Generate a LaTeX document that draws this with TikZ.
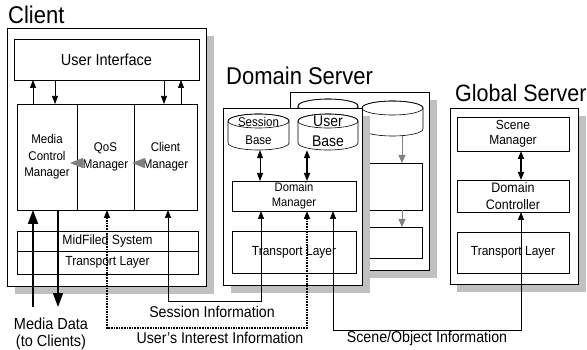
\documentclass[tikz,border=0pt]{standalone}
\usepackage{fontspec}
\setmainfont[FakeStretch=0.909]{Liberation Sans}
\usetikzlibrary{arrows.meta,fit,calc}
\definecolor{shade}{RGB}{192,192,192}
\definecolor{garrow}{RGB}{128,128,128}
\newcommand\fs[1]{\fontsize{\fpeval{1.1*#1}}{\fpeval{1.43*#1}}\selectfont}
\newcommand\fsl[2]{\fontsize{\fpeval{1.1*#1}}{#2}\selectfont}
\newcommand\rbox[7][]{%
  \pgfmathsetmacro\bw{#5-#3}\pgfmathsetmacro\bh{#6-#4}%
  \pgfmathsetmacro\bx{(#3+#5)/2}\pgfmathsetmacro\by{(#4+#6)/2}%
  \node[box, minimum width=\bw pt, minimum height=\bh pt, #1] (#2) at (\bx,\by) {#7};}
\newcommand\cyl[5]{%
  \pgfmathsetmacro\cxc{(#2+#4)/2}\pgfmathsetmacro\crx{(#4-#2)/2}%
  \draw[line width=0.6pt,fill=white] (#2,#3+7) -- (#2,#5-7) arc[start angle=180,end angle=0,x radius=\crx,y radius=7] -- (#4,#3+7) arc[start angle=0,end angle=-180,x radius=\crx,y radius=7] -- cycle;
  \draw[line width=0.6pt] (\cxc,#3+7) ellipse[x radius=\crx, y radius=7];
  \node[inner sep=0pt, fit={(#2,#3) (#4,#5)}] (#1) {};}
\begin{document}
\begin{tikzpicture}[x=1pt,y=-1pt,
  box/.style={draw, fill=white, inner sep=0pt, outer sep=0pt, line width=0.6pt, align=center, font=\fs{11.5}},
  outer/.style={draw, fill=white, line width=0.6pt},
  shadowrect/.style={fill=shade, draw=none},
  title/.style={anchor=base west, inner sep=0pt, font=\fs{22}},
  lbl/.style={inner sep=0pt, align=center, font=\fs{14.2}},
  bl/.style={anchor=base, inner sep=0pt},
  tipA/.tip={Triangle[length=8pt,width=6pt]},
  tipB/.tip={Triangle[length=14pt,width=10pt]},
  arr/.style={-tipA, line width=0.7pt},
  darr/.style={tipA-tipA, line width=0.7pt},
  tdarr/.style={tipA-tipA, line width=1.6pt},
  thickarr/.style={-tipB, line width=1.8pt},
  dasharr/.style={tipA-tipA, line width=1.6pt, dash pattern=on 1.6pt off 1pt},
  garr/.style={-{Triangle[length=13pt,width=10pt]}, draw=garrow, fill=garrow, line width=0.8pt},
  garr2/.style={-{Triangle[length=8pt,width=7pt]}, draw=garrow, fill=garrow, line width=0.8pt}
]
\useasboundingbox (0,0) rectangle (587,350);

% ---------------- Client ----------------
\node[title] (tclient) at (8,24) {Client};
\fill[shadowrect] (15,36) rectangle (214,294);
\draw[outer] (7,28) rectangle (206,286);
\node[inner sep=0pt, fit={(7,28) (206,286)}] (client) {};
\rbox[font=\fs{14.5}]{ui}{14}{39}{199}{80}{User Interface}
\rbox[font=\fsl{11.5}{16.5}]{mcm}{17}{104}{77}{210}{Media\\Control\\Manager}
\rbox[font=\fsl{11.5}{17}]{qos}{77}{104}{134}{210}{QoS\\Manager}
\rbox[font=\fsl{11.5}{17}]{clm}{134}{104}{197}{210}{Client\\Manager}
\rbox[font=\fs{12.2}]{mid}{17}{231}{198}{251}{MidFiled System}
\rbox[font=\fs{12}]{tl1}{17}{251}{198}{274}{Transport Layer}

\coordinate (xa) at (33,0);
\coordinate (xb) at (55,0);
\coordinate (xc) at (164,0);
\coordinate (xd) at (181,0);
\draw[arr] (mcm.north -| xa) -- (ui.south -| xa);
\draw[arr] (ui.south -| xb) -- (mcm.north -| xb);
\draw[arr] (ui.south -| xc) -- (clm.north -| xc);
\draw[arr] (clm.north -| xd) -- (ui.south -| xd);

\draw[garr] ([xshift=9pt,yshift=-6pt]qos.west) -- ([xshift=-7pt,yshift=-6pt]qos.west);
\draw[garr] ([xshift=9pt,yshift=-6pt]clm.west) -- ([xshift=-2pt,yshift=-6pt]clm.west);

% ---------------- Domain Server (back) ----------------
\node[title] (tdomain) at (226,85) {Domain Server};
\fill[shadowrect] (298,100) rectangle (437,278);
\draw[outer] (290,92) rectangle (429,270);
\node[inner sep=0pt, fit={(290,92) (429,270)}] (dsback) {};
\cyl{bcyla}{298}{99}{358}{135}
\cyl{bcylb}{362}{101}{423}{136}
\rbox{bb1}{299}{163}{422}{210}{}
\rbox{bb2}{299}{227}{422}{258}{}
\coordinate (xg1) at (402,0);
\draw[garr2] (bcylb.south -| xg1) -- (bb1.north -| xg1);
\draw[garr2] (bb1.south -| xg1) -- (bb2.north -| xg1);

% ---------------- Domain Server (front) ----------------
\fill[shadowrect] (231,116) rectangle (370,293);
\draw[outer] (223,108) rectangle (362,285);
\node[inner sep=0pt, fit={(223,108) (362,285)}] (dsfront) {};
\cyl{sb}{228}{114}{289}{150}
\cyl{ub}{298}{114}{358}{150}
\node[bl, font=\fs{11.5}] (sbt1) at (258.5,127) {Session};
\node[bl, font=\fs{11.5}] (sbt2) at (258.5,145) {Base};
\node[bl, font=\fs{14}] (ubt1) at (328,127) {User};
\node[bl, font=\fs{14}] (ubt2) at (328,147) {Base};
\rbox[font=\fsl{11.2}{15}]{dm}{232}{181}{356}{211}{Domain\\Manager}
\rbox[font=\fs{12}]{tl2}{232}{231}{356}{273}{Transport Layer}
\coordinate (xs) at (260,0);
\coordinate (xu) at (307,0);
\draw[darr] (sb.south -| xs) -- (dm.north -| xs);
\draw[tdarr] (ub.south -| xu) -- (dm.north -| xu);

% ---------------- Global Server ----------------
\node[title, font=\fs{21.5}] (tglobal) at (455,102) {Global Server};
\fill[shadowrect] (457,116) rectangle (586,292);
\draw[outer] (450,108) rectangle (578,284);
\node[inner sep=0pt, fit={(450,108) (578,284)}] (gs) {};
\rbox[font=\fsl{12}{15}]{sm}{457}{117}{569}{151}{Scene\\Manager}
\rbox[font=\fsl{12.5}{17}]{dc}{457}{180}{569}{212}{Domain\\Controller}
\rbox[font=\fs{12}]{tl3}{457}{232}{569}{273}{Transport Layer}
\coordinate (xgs) at (521,0);
\draw[tdarr] (sm.south -| xgs) -- (dc.north -| xgs);

% ---------------- Connectors ----------------
\coordinate (md1) at (33,307);
\coordinate (md2) at (58,307);
\draw[thickarr] (md1) -- (mcm.south -| md1);
\draw[thickarr] (mcm.south -| md2) -- (md2);

\coordinate (u1) at (107,328);
\coordinate (u2) at (307,328);
\draw[dasharr] (qos.south -| u1) -- (u1) -- (u2) -- (dm.south -| u2);

\coordinate (s1) at (168,301);
\coordinate (s2) at (261,301);
\draw[darr] (clm.south -| s1) -- (s1) -- (s2) -- (dm.south -| s2);

\coordinate (o1) at (333,330);
\coordinate (o2) at (521,330);
\draw[darr] (dm.south -| o1) -- (o1) -- (o2) -- (dc.south -| o2);

% ---------------- Labels ----------------
\node[bl, font=\fs{14.5}] (lmedia1) at (51,329) {Media Data};
\node[bl, font=\fs{14.5}] (lmedia2) at (51,346) {(to Clients)};
\node[lbl] (lsession) at (212,312) {Session Information};
\node[lbl] (luser) at (220,338) {User's Interest Information};
\node[lbl] (lscene) at (427,338) {Scene/Object Information};
\end{tikzpicture}
\end{document}
